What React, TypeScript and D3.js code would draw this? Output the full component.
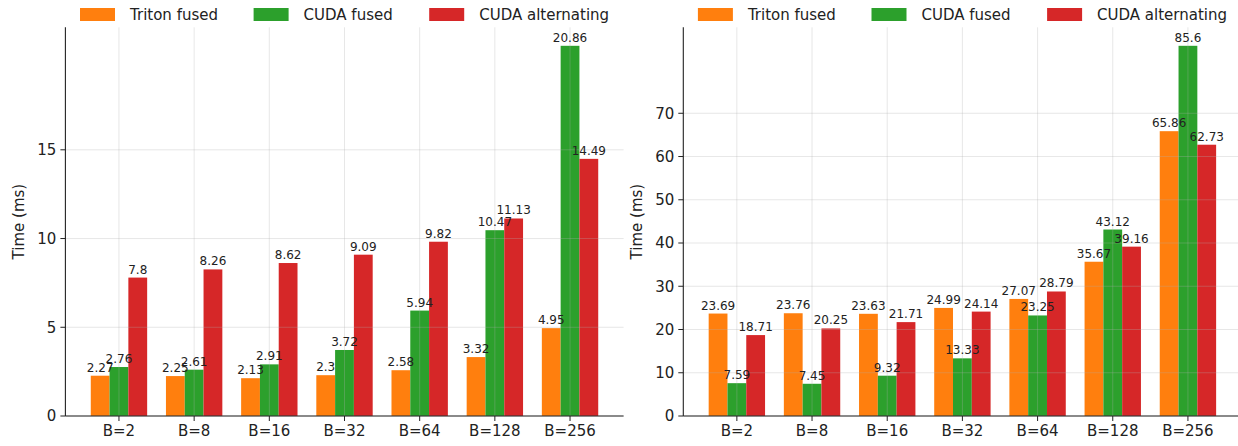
import * as d3 from "d3";

const CATEGORIES = ["B=2", "B=8", "B=16", "B=32", "B=64", "B=128", "B=256"];
const SERIES = ["Triton fused", "CUDA fused", "CUDA alternating"];
const COLORS = ["#ff7f0e", "#2ca02c", "#d62728"];

const LEFT_TRITON = [2.27, 2.25, 2.13, 2.3, 2.58, 3.32, 4.95];
const LEFT_CUDA_FUSED = [2.76, 2.61, 2.91, 3.72, 5.94, 10.47, 20.86];
const LEFT_CUDA_ALT = [7.8, 8.26, 8.62, 9.09, 9.82, 11.13, 14.49];
const LEFT_TICKS = [0, 5, 10, 15];

const RIGHT_TRITON = [23.69, 23.76, 23.63, 24.99, 27.07, 35.67, 65.86];
const RIGHT_CUDA_FUSED = [7.59, 7.45, 9.32, 13.33, 23.25, 43.12, 85.6];
const RIGHT_CUDA_ALT = [18.71, 20.25, 21.71, 24.14, 28.79, 39.16, 62.73];
const RIGHT_TICKS = [0, 10, 20, 30, 40, 50, 60, 70];

const FONT = "DejaVu Sans, sans-serif";
const TOP = 27.3;
const BOTTOM = 416;
const BAR_W = 0.25;
const LEGEND_OFFSETS = [0, 173.6, 349.2];

interface PanelProps {
  x0: number;
  x1: number;
  series: number[][];
  ticks: number[];
  labelX: number;
}

function Panel({ x0, x1, series, ticks, labelX }: PanelProps) {
  const maxV = d3.max(series.flat()) ?? 1;
  const x = d3.scaleLinear().domain([-0.5 - 0.2125, CATEGORIES.length - 0.5 + 0.2125]).range([x0, x1]);
  const y = d3.scaleLinear().domain([0, maxV * 1.05]).range([BOTTOM, TOP]);
  const bw = x(BAR_W) - x(0);
  const grid = "rgba(176,176,176,0.3)";
  const legendStart = (x0 + x1) / 2 - 264.5;
  const bars = series.flatMap((vals, j) => vals.map((v, i) => ({ j, i, v, cx: x(i + (j - 1) * BAR_W) })));
  return (
    <g fontFamily={FONT}>
      {bars.map(b => (
        <rect key={`r${b.j}-${b.i}`} x={b.cx - bw / 2} y={y(b.v)} width={bw} height={BOTTOM - y(b.v)} fill={COLORS[b.j]} />
      ))}
      {ticks.map(t => (
        <line key={`gy${t}`} x1={x0} x2={x1} y1={y(t)} y2={y(t)} stroke={grid} strokeWidth={1} />
      ))}
      {CATEGORIES.map((c, i) => (
        <line key={`gx${c}`} x1={x(i)} x2={x(i)} y1={TOP} y2={BOTTOM} stroke={grid} strokeWidth={1} />
      ))}
      {bars.map(b => (
        <text key={`l${b.j}-${b.i}`} x={b.cx} y={y(b.v) - 4} textAnchor="middle" fontSize={12} fill="#222">{String(b.v)}</text>
      ))}
      <line x1={x0} x2={x0} y1={TOP} y2={BOTTOM} stroke="#222" strokeWidth={1.1} />
      <line x1={x0} x2={x1} y1={BOTTOM} y2={BOTTOM} stroke="#222" strokeWidth={1.1} />
      {ticks.map(t => (
        <g key={`ty${t}`}>
          <line x1={x0 - 5} x2={x0} y1={y(t)} y2={y(t)} stroke="#222" strokeWidth={1} />
          <text x={x0 - 9} y={y(t)} dy="0.36em" textAnchor="end" fontSize={15} fill="#222">{t}</text>
        </g>
      ))}
      {CATEGORIES.map((c, i) => (
        <g key={`tx${c}`}>
          <line x1={x(i)} x2={x(i)} y1={BOTTOM} y2={BOTTOM + 5} stroke="#222" strokeWidth={1} />
          <text x={x(i)} y={BOTTOM + 9} dy="0.76em" textAnchor="middle" fontSize={15} fill="#222">{c}</text>
        </g>
      ))}
      <text transform={`translate(${labelX},${(TOP + BOTTOM) / 2}) rotate(-90)`} textAnchor="middle" dy="0.36em" fontSize={15} fill="#222">Time (ms)</text>
      {SERIES.map((s, j) => (
        <g key={s}>
          <rect x={legendStart + LEGEND_OFFSETS[j]} y={8} width={35} height={13} fill={COLORS[j]} />
          <text x={legendStart + LEGEND_OFFSETS[j] + 50} y={14.5} dy="0.36em" fontSize={15} fill="#222">{s}</text>
        </g>
      ))}
    </g>
  );
}

export default function App() {
  return (
    <div style={{ position: "absolute", left: 0, top: 0 }}>
      <svg width={1238} height={446} style={{ display: "block", background: "#fff" }}>
        <Panel x0={65.4} x1={623.6} series={[LEFT_TRITON, LEFT_CUDA_FUSED, LEFT_CUDA_ALT]} ticks={LEFT_TICKS} labelX={19} />
        <Panel x0={683.3} x1={1241.5} series={[RIGHT_TRITON, RIGHT_CUDA_FUSED, RIGHT_CUDA_ALT]} ticks={RIGHT_TICKS} labelX={637} />
      </svg>
    </div>
  );
}
